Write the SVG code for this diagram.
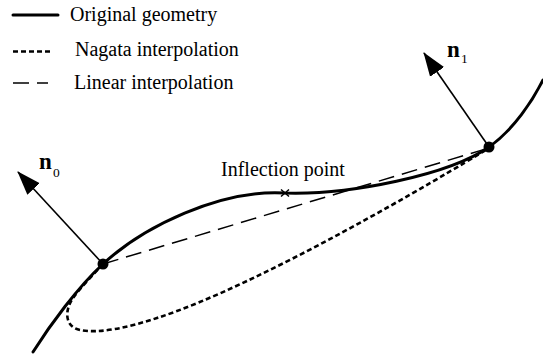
<svg xmlns="http://www.w3.org/2000/svg" width="543" height="357" viewBox="0 0 543 357">
<style>
  text { font-family: "Liberation Serif", "DejaVu Serif", serif; fill: #000; }
  .lbl { font-size: 20px; }
  .vec { font-size: 23px; font-weight: bold; }
  .sub { font-size: 13.5px; }
  .orig { fill: none; stroke: #000; stroke-width: 3; stroke-linecap: round; }
  .nagata { fill: none; stroke: #000; stroke-width: 2.6; stroke-dasharray: 5 3; }
  .linear { fill: none; stroke: #000; stroke-width: 1.5; stroke-dasharray: 16 8; }
  .normal { fill: none; stroke: #000; stroke-width: 1.6; }
</style>
<defs>
  <marker id="head" viewBox="0 -9 24 18" refX="23" refY="0" markerWidth="24" markerHeight="18" markerUnits="userSpaceOnUse" orient="auto">
    <path d="M0,-8.5 L24,0 L0,8.5 Z" fill="#000"/>
  </marker>
</defs>
<rect width="543" height="357" fill="#fff"/>

<g id="legend">
  <line x1="13" y1="15" x2="58" y2="15" class="orig" stroke-linecap="butt"/>
  <text x="70" y="20.5" class="lbl" font-family="Liberation Serif, serif">Original geometry</text>
  <line x1="13" y1="51.5" x2="50" y2="51.5" class="nagata" stroke-dasharray="5 2.8"/>
  <text x="75" y="56" class="lbl" font-family="Liberation Serif, serif">Nagata interpolation</text>
  <line x1="13" y1="83" x2="48" y2="83" class="linear" stroke-width="1.8" stroke-dasharray="14 6"/>
  <text x="74" y="89" class="lbl" font-family="Liberation Serif, serif">Linear interpolation</text>
</g>

<g id="connectors">
  <path id="linear-interpolation" class="linear" d="M103,264 L489,148"/>
  <path id="nagata-interpolation" class="nagata" d="M103,264 C93,275 80,288 73,298 C64,311 65,327 80,330 C100,334 130,327 157,318 C260,285 440,178 489,148"/>
  <path id="original-geometry" class="orig" d="M33,352 C50,325 78,287 103,264 C143,227 220,189 285,193 C350,195 449,175 489,147 C514,129.5 533,100 543,80"/>
  <line id="n0-arrow" class="normal" x1="103" y1="264" x2="18" y2="172" marker-end="url(#head)"/>
  <line id="n1-arrow" class="normal" x1="489" y1="147" x2="424" y2="53" marker-end="url(#head)"/>
</g>

<g id="p0">
  <circle cx="103" cy="264" r="5.5" fill="#000"/>
  <text x="39" y="169" class="vec" font-family="Liberation Serif, serif">n</text>
  <text x="53" y="177" class="sub" font-family="Liberation Serif, serif">0</text>
</g>

<g id="p1">
  <circle cx="489" cy="147" r="5.5" fill="#000"/>
  <text x="447" y="57" class="vec" font-family="Liberation Serif, serif">n</text>
  <text x="461" y="63" class="sub" font-family="Liberation Serif, serif">1</text>
</g>

<g id="inflection">
  <path d="M281,189.5 L289,196.5 M289,189.5 L281,196.5" stroke="#000" stroke-width="1.5" fill="none"/>
  <text x="221" y="176" class="lbl" font-family="Liberation Serif, serif">Inflection point</text>
</g>
</svg>
